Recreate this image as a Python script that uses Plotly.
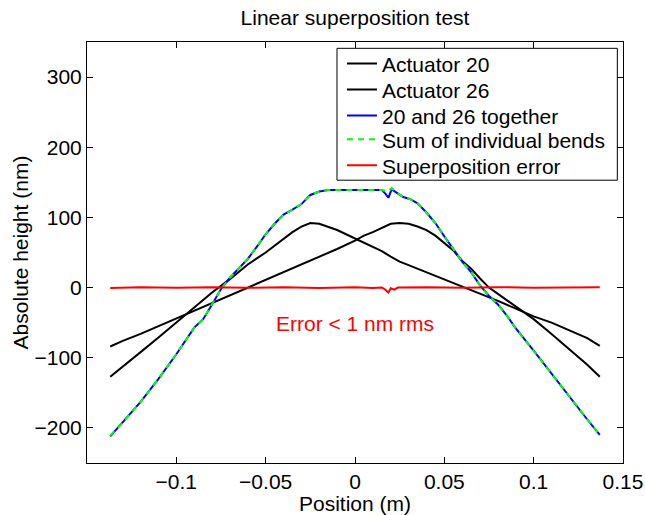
import plotly.graph_objects as go

# ---- data ----
act20_x = [-0.137, -0.13, -0.12, -0.11, -0.10, -0.09, -0.08, -0.07, -0.06, -0.05, -0.045, -0.04,
           -0.035, -0.03, -0.025, -0.02, -0.015, -0.01, -0.005, 0.0, 0.005, 0.01, 0.015, 0.02,
           0.025, 0.03, 0.035, 0.04, 0.045, 0.05, 0.055, 0.06, 0.07, 0.08, 0.09, 0.10, 0.11,
           0.12, 0.13, 0.137]
act20_y = [-127, -113, -92, -71, -50, -29, -7, 12, 33, 50, 60, 70, 79, 87, 92, 91, 87, 82, 76, 70,
           64, 58, 52, 44, 37, 32, 27, 22, 17, 12, 6, 1, -9, -19, -30, -41, -50, -61, -72, -83]

act26_x = [-0.137, -0.13, -0.12, -0.11, -0.10, -0.09, -0.08, -0.07, -0.06, -0.05, -0.04, -0.035,
           -0.03, -0.025, -0.02, -0.01, 0.0, 0.005, 0.01, 0.015, 0.02, 0.025, 0.03, 0.035, 0.04,
           0.045, 0.05, 0.055, 0.06, 0.065, 0.07, 0.075, 0.08, 0.09, 0.10, 0.11, 0.12, 0.13, 0.137]
act26_y = [-84, -76, -66, -55, -44, -33, -22, -11, 0, 10, 21, 27, 33, 38, 44, 55, 67, 74, 79, 85,
           91, 92, 91, 87, 82, 74, 64, 53, 38, 27, 13, 0, -9, -27, -45, -66, -88, -110, -127]

together_x = [-0.137, -0.13, -0.12, -0.11, -0.10, -0.09, -0.085, -0.08, -0.075, -0.07, -0.065,
              -0.06, -0.055, -0.05, -0.045, -0.04, -0.035, -0.03, -0.025, -0.02, -0.015, -0.01,
              -0.005, 0.0, 0.005, 0.01, 0.015, 0.017, 0.0187, 0.0205, 0.023, 0.027, 0.031, 0.035,
              0.04, 0.045, 0.05, 0.055, 0.06, 0.065, 0.07, 0.075, 0.08, 0.085, 0.09, 0.10, 0.11,
              0.12, 0.13, 0.137]
together_y = [-212, -192, -163, -130, -95, -57, -45, -24, -2, 14, 27, 41, 58, 76, 91, 104, 111, 119,
              132, 137, 139, 139, 140, 139, 140, 139, 139, 134, 128, 140, 136, 129, 126, 120, 107,
              92, 73, 55, 37, 22, 3, -12, -24, -40, -58, -90, -123, -155, -188, -210]

sum_x = [-0.137, -0.13, -0.12, -0.11, -0.10, -0.09, -0.085, -0.08, -0.075, -0.07, -0.065, -0.06,
         -0.055, -0.05, -0.045, -0.04, -0.035, -0.03, -0.025, -0.02, -0.015, -0.01, -0.005, 0.0,
         0.005, 0.01, 0.015, 0.017, 0.0187, 0.0205, 0.023, 0.027, 0.031, 0.035, 0.04, 0.045, 0.05,
         0.055, 0.06, 0.065, 0.07, 0.075, 0.08, 0.085, 0.09, 0.10, 0.11, 0.12, 0.13, 0.137]
sum_y = [-211, -192, -163, -130, -95, -57, -45, -24, -2, 14, 27, 41, 58, 76, 91, 104, 111, 119, 132,
         137, 139, 139, 140, 139, 140, 139, 139, 138, 137, 142, 136, 129, 126, 120, 107, 92, 73, 55,
         37, 22, 3, -12, -24, -40, -58, -90, -123, -155, -188, -210]

err_x = [-0.137, -0.12, -0.10, -0.08, -0.06, -0.04, -0.02, 0.0, 0.01, 0.015, 0.017, 0.0187, 0.020,
         0.022, 0.024, 0.04, 0.06, 0.08, 0.10, 0.12, 0.137]
err_y = [-0.5, 0.3, -0.4, 0.5, -0.3, 0.4, -0.5, 0.3, -0.5, 0.2, -3, -7, -1, -3, 0, 0.5, -0.4, 0.6,
         -0.2, 0.8, 0.6]

series_names = ["Actuator 20", "Actuator 26", "20 and 26 together", "Sum of individual bends",
                "Superposition error"]

x_ticks = [-0.1, -0.05, 0, 0.05, 0.1, 0.15]
x_ticktext = ["\u22120.1", "\u22120.05", "0", "0.05", "0.1", "0.15"]
y_ticks = [-200, -100, 0, 100, 200, 300]
y_ticktext = ["\u2212200", "\u2212100", "0", "100", "200", "300"]

FONT = "Liberation Sans, Arial, Helvetica, sans-serif"
FS = 21

legend_ids = ["legend", "legend2", "legend3", "legend4", "legend5"]
styles = [dict(color="black", width=2), dict(color="black", width=2),
          dict(color="#0000ff", width=2), dict(color="#00ff00", width=2, dash="6px,5px"),
          dict(color="#ff0000", width=2)]
xs = [act20_x, act26_x, together_x, sum_x, err_x]
ys = [act20_y, act26_y, together_y, sum_y, err_y]

fig = go.Figure()
for xv, yv, nm, st, lg in zip(xs, ys, series_names, styles, legend_ids):
    fig.add_trace(go.Scatter(x=xv, y=yv, mode="lines", name=nm, line=st, legend=lg))

fig.add_annotation(x=0, y=-51, xref="x", yref="y", text="Error < 1 nm rms", showarrow=False,
                   font=dict(color="#ff0000", size=FS, family=FONT))

# legend frame (white box with black border)
fig.add_shape(type="rect", xref="paper", yref="paper", x0=0.4664, x1=0.9894, y0=0.6717, y1=0.985,
              fillcolor="white", line=dict(color="black", width=1), layer="above")

axis_common = dict(showline=True, linecolor="black", linewidth=1, mirror="ticks",
                   ticks="inside", ticklen=6, tickcolor="black", showgrid=False, zeroline=False,
                   automargin=False, tickfont=dict(size=FS, color="black", family=FONT))

row_y = [0.9483, 0.8865, 0.8248, 0.7679, 0.7062]
legend_layout = {}
for lg, ry in zip(legend_ids, row_y):
    legend_layout[lg] = dict(x=0.4757, y=ry, xanchor="left", yanchor="middle",
                             bgcolor="rgba(0,0,0,0)", borderwidth=0,
                             font=dict(size=FS, color="black", family=FONT), itemwidth=30)

fig.update_layout(
    width=645, height=515,
    margin=dict(l=87, r=22, t=42, b=52, autoexpand=False),
    paper_bgcolor="white", plot_bgcolor="white",
    font=dict(family=FONT, size=FS, color="black"),
    title=dict(text="Linear superposition test", x=0.5, xref="paper", xanchor="center",
               y=1 - 18 / 515, yref="container", yanchor="middle",
               font=dict(size=FS, color="black", family=FONT)),
    xaxis=dict(range=[-0.15, 0.15], tickvals=x_ticks, ticktext=x_ticktext,
               title=dict(text="Position (m)", standoff=0, font=dict(size=FS)), **axis_common),
    yaxis=dict(range=[-250, 350], tickvals=y_ticks, ticktext=y_ticktext,
               title=dict(text="Absolute height (nm)", standoff=0, font=dict(size=FS)),
               **axis_common),
    showlegend=True,
    **legend_layout,
)

fig.write_html("out.html")
